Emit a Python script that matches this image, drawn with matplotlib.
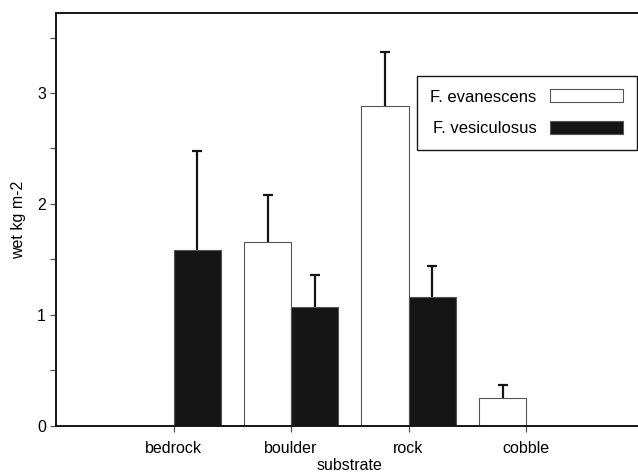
import matplotlib
matplotlib.use("Agg")
import matplotlib.pyplot as plt
import numpy as np

categories = ["bedrock", "boulder", "rock", "cobble"]
series_names = ["F. evanescens", "F. vesiculosus"]
evanescens = [0.0, 1.66, 2.88, 0.245]
evanescens_upper = [np.nan, 2.08, 3.375, 0.368]
vesiculosus = [1.584, 1.072, 1.16, 0.0]
vesiculosus_upper = [2.48, 1.356, 1.44, np.nan]
y_ticks = [0, 1, 2, 3]

plt.rcParams['font.family'] = ['Liberation Sans', 'DejaVu Sans']

W, H = 638, 475
FS = 11.5
LFS = 12
fig = plt.figure(figsize=(W / 100, H / 100), dpi=100)
left, right, bottom, top = 56, 643.5, 425.5, 13.3
ax = fig.add_axes([left / W, (H - bottom) / H, (right - left) / W, (bottom - top) / H])

x = np.arange(1, len(categories) + 1)
bw = 0.4
ev = np.array(evanescens)
ve = np.array(vesiculosus)
evu = np.array(evanescens_upper)
veu = np.array(vesiculosus_upper)

ax.bar(x - bw / 2, ev, bw, color="white", edgecolor="#555555", linewidth=0.8,
       label=series_names[0], zorder=2)
ax.bar(x + bw / 2, ve, bw, color="#151515", edgecolor="#555555", linewidth=0.8,
       label=series_names[1], zorder=2)

for xs, vals, ups in [(x - bw / 2, ev, evu), (x + bw / 2, ve, veu)]:
    m = ~np.isnan(ups)
    cont = ax.errorbar(xs[m], vals[m], yerr=[np.zeros(m.sum()), ups[m] - vals[m]],
                       fmt="none", ecolor="#151515", elinewidth=1.6, capsize=3.6,
                       capthick=1.6, zorder=3)
    caps = cont[1]
    if len(caps) > 0:
        caps[0].set_visible(False)

ax.set_xlim(0, 5)
ax.set_ylim(0, 3.72)
ax.set_xticks(x)
ax.set_xticklabels(categories, fontsize=FS)
ax.set_yticks(y_ticks)
ax.set_yticklabels([str(t) for t in y_ticks], fontsize=FS)
ax.set_yticks([0.5, 1.5, 2.5, 3.5], minor=True)
ax.tick_params(axis="both", which="both", direction="out", length=4.3,
               width=0.9, color="#555555", pad=3)
ax.tick_params(axis="x", which="major", pad=7)
for s in ["left", "bottom", "top", "right"]:
    ax.spines[s].set_linewidth(1.4)
    ax.spines[s].set_color("#151515")

ax.set_xlabel("substrate", fontsize=FS, labelpad=1.5)
ax.set_ylabel("wet kg m-2", fontsize=FS, labelpad=8)

leg = ax.legend(loc="upper left", bbox_to_anchor=(417 / W, (H - 76) / H),
                bbox_transform=fig.transFigure, markerfirst=False,
                fancybox=False, frameon=True, edgecolor="#151515",
                framealpha=1, fontsize=LFS, handlelength=4.4,
                handleheight=0.8, handletextpad=0.8, labelspacing=1.0,
                borderpad=0.8, borderaxespad=0)
leg.get_frame().set_linewidth(1.0)
for p in leg.get_patches():
    p.set_edgecolor("#555555")

fig.savefig("out.png", dpi=100)
